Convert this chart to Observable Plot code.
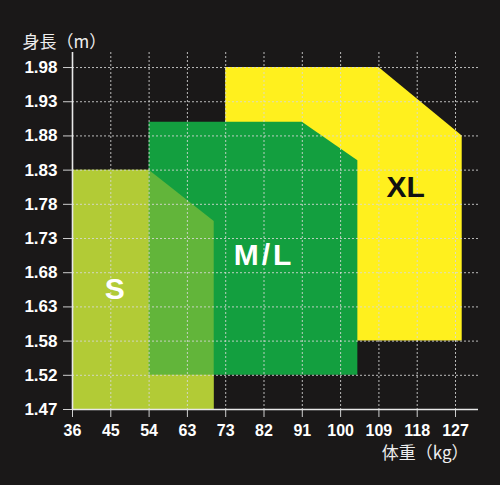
<!DOCTYPE html>
<html><head><meta charset="utf-8">
<script src="https://cdn.jsdelivr.net/npm/d3@7"></script>
<script src="https://cdn.jsdelivr.net/npm/@observablehq/plot@0.6"></script>
<style>
html,body{margin:0;padding:0;background:#1a1818;}
</style></head><body><div id="chart"></div>
<script>
// Underlying units: weight in lbs, height in inches (ticks uniform); labels shown in kg / m
const xTicks = [80,100,120,140,160,180,200,220,240,260,280];
const xTickLabels = ["36","45","54","63","73","82","91","100","109","118","127"];
const yTicks = [58,60,62,64,66,68,70,72,74,76,78];
const yTickLabels = ["1.47","1.52","1.58","1.63","1.68","1.73","1.78","1.83","1.88","1.93","1.98"];

// size zones: x breakpoints, top edge, bottom edge
const sX = [80,120,154];     const sTop = [72,72,69];        const sBottom = 58;
const mlX = [120,200,229];   const mlTop = [74.8,74.8,72.55]; const mlBottom = 60;
const xlX = [160,240,283.5]; const xlTop = [78,78,74];        const xlBottom = 62;

const sizeNames = ["S","M/L","XL"];
const sizeLabelX = [102,180,254];
const sizeLabelY = [65,67,71];
const sizeLabelColor = ["#ffffff","#ffffff","#111111"];

const zone = (xs, tops, bottom) => xs.map((x,i)=>({x, top: tops[i], bottom}));
const sZone = zone(sX, sTop, sBottom);
const mlZone = zone(mlX, mlTop, mlBottom);
const xlZone = zone(xlX, xlTop, xlBottom);
const labels = sizeNames.map((t,i)=>({t, x: sizeLabelX[i], y: sizeLabelY[i], c: sizeLabelColor[i]}));

const fmtX = d => xTickLabels[xTicks.indexOf(d)];
const fmtY = d => yTickLabels[yTicks.indexOf(d)];

const chart = Plot.plot({
  width: 500, height: 485,
  marginLeft: 72, marginRight: 22, marginTop: 52, marginBottom: 76,
  style: {background: "#1a1818", color: "#ffffff", fontFamily: "'Liberation Sans', Arial, sans-serif"},
  x: {domain: [80, 292]},
  y: {domain: [58, 78.88]},
  marks: [
    Plot.areaY(xlZone, {x: "x", y1: "bottom", y2: "top", fill: "#fff01e"}),
    Plot.areaY(sZone, {x: "x", y1: "bottom", y2: "top", fill: "#b2cb36"}),
    Plot.areaY(mlZone, {x: "x", y1: "bottom", y2: "top", fill: "#139f3f"}),
    Plot.areaY(sZone, {x: "x", y1: "bottom", y2: "top", fill: "#b2cb36", fillOpacity: 0.5}),
    Plot.gridX(xTicks, {stroke: "#d8d8d8", strokeOpacity: 0.85, strokeDasharray: "2,2"}),
    Plot.gridY(yTicks, {stroke: "#d8d8d8", strokeOpacity: 0.85, strokeDasharray: "2,2"}),
    Plot.axisX(xTicks, {tickFormat: fmtX, tickSize: 8, tickPadding: 7, stroke: "#cfcfcf", fill: "#ffffff", fontSize: 16, fontWeight: "bold", label: null}),
    Plot.axisY(yTicks, {tickFormat: fmtY, tickSize: 9, tickPadding: 6, stroke: "#cfcfcf", fill: "#ffffff", fontSize: 17, fontWeight: "bold", label: null}),
    Plot.ruleX([80], {stroke: "#e8e8e8", strokeWidth: 1.6}),
    Plot.ruleY([58], {stroke: "#e8e8e8", strokeWidth: 1.6}),
    Plot.text(labels, {x: "x", y: "y", text: "t", fill: "c", fontSize: 30, fontWeight: "bold", textAnchor: "middle"}),
    Plot.text(["身長（m）"], {frameAnchor: "top-left", dx: -50, dy: -17, textAnchor: "start", fill: "#eeeeee", fontSize: 17, fontFamily: "'Noto Sans CJK JP', sans-serif"}),
    Plot.text(["体重（kg）"], {frameAnchor: "bottom-right", dx: -10, dy: 49, textAnchor: "end", fill: "#eeeeee", fontSize: 17, fontFamily: "'Noto Sans CJK JP', sans-serif"})
  ]
});
d3.select(chart).selectAll("text").filter(function(){ return this.textContent === "M/L"; })
  .style("letter-spacing", "3px");
document.getElementById("chart").appendChild(chart);
</script></body></html>
